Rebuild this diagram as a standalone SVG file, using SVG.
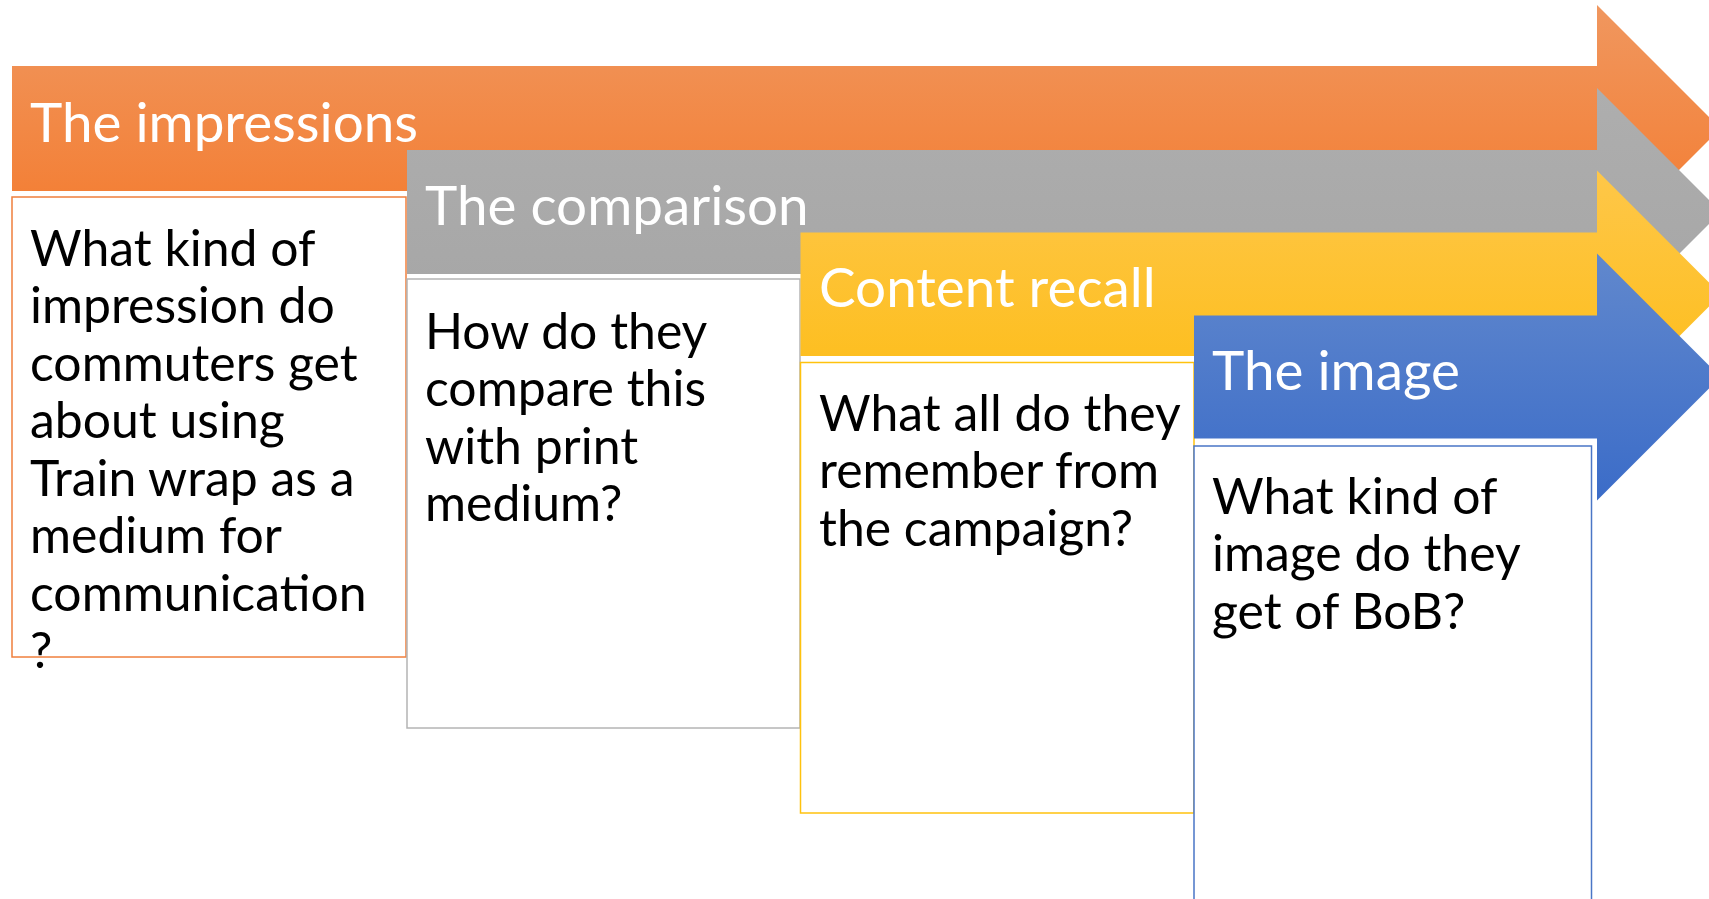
<svg xmlns="http://www.w3.org/2000/svg" width="1709" height="899" viewBox="0 0 1709 899">
  <style>
    .head { font-family: Lato, "Open Sans", sans-serif; font-size: 54.8px; fill: #ffffff; }
    .body { font-family: Lato, "Open Sans", sans-serif; font-size: 49.9px; fill: #000000; }
    .box { fill: #ffffff; stroke-width: 1.5; }
  </style>
  <defs>
    <linearGradient id="gOrange" x1="0" y1="0" x2="0" y2="1">
      <stop offset="0" stop-color="#F0975F"/>
      <stop offset="1" stop-color="#F4792B"/>
    </linearGradient>
    <linearGradient id="gGray" x1="0" y1="0" x2="0" y2="1">
      <stop offset="0" stop-color="#AEAEAE"/>
      <stop offset="1" stop-color="#A5A5A5"/>
    </linearGradient>
    <linearGradient id="gYellow" x1="0" y1="0" x2="0" y2="1">
      <stop offset="0" stop-color="#FEC749"/>
      <stop offset="1" stop-color="#FDBC14"/>
    </linearGradient>
    <linearGradient id="gBlue" x1="0" y1="0" x2="0" y2="1">
      <stop offset="0" stop-color="#6188CD"/>
      <stop offset="1" stop-color="#3B6CC8"/>
    </linearGradient>
  </defs>

  <rect width="1709" height="899" fill="#ffffff"/>

  <!-- Step 1: impressions -->
  <g id="step-impressions">
    <path d="M12,66 H1597 V5 L1720.5,128.5 L1597,252 V191 H12 Z" fill="url(#gOrange)"/>
    <text class="head" x="30" y="141.5">The impressions</text>
    <rect class="box" x="12" y="197" width="394" height="460" stroke="#F07F3C"/>
    <text class="body" x="30">
      <tspan x="30" y="265.5">What kind of</tspan>
      <tspan x="30" y="323">impression do</tspan>
      <tspan x="30" y="380.5">commuters get</tspan>
      <tspan x="30" y="438">about using</tspan>
      <tspan x="30" y="495.5">Train wrap as a</tspan>
      <tspan x="30" y="553">medium for</tspan>
      <tspan x="30" y="610.5">communication</tspan>
      <tspan x="30" y="668">?</tspan>
    </text>
  </g>

  <!-- Step 2: comparison -->
  <g id="step-comparison">
    <path d="M407,150 H1597 V88 L1721,212 L1597,336 V274 H407 Z" fill="url(#gGray)"/>
    <text class="head" x="425" y="225">The comparison</text>
    <rect class="box" x="407" y="279" width="393" height="449" stroke="#B4B4B4"/>
    <text class="body">
      <tspan x="425" y="348.5">How do they</tspan>
      <tspan x="425" y="406">compare this</tspan>
      <tspan x="425" y="463.5">with print</tspan>
      <tspan x="425" y="521">medium?</tspan>
    </text>
  </g>

  <!-- Step 3: content recall -->
  <g id="step-recall">
    <path d="M800.5,232.5 H1597 V170.5 L1721,294.5 L1597,418.5 V356 H800.5 Z" fill="url(#gYellow)"/>
    <text class="head" x="819" y="307">Content recall</text>
    <rect class="box" x="800.5" y="362.5" width="393.5" height="450.5" stroke="#FFC20E"/>
    <text class="body">
      <tspan x="819" y="430.5">What all do they</tspan>
      <tspan x="819" y="488">remember from</tspan>
      <tspan x="819" y="545.5">the campaign?</tspan>
    </text>
  </g>

  <!-- Step 4: image -->
  <g id="step-image">
    <path d="M1194,315.5 H1597 V253.5 L1720.5,377 L1597,500.5 V438.5 H1194 Z" fill="url(#gBlue)"/>
    <text class="head" x="1212" y="389.5">The image</text>
    <rect class="box" x="1194" y="446" width="397.5" height="470" stroke="#4A76C6"/>
    <text class="body">
      <tspan x="1212" y="513.5">What kind of</tspan>
      <tspan x="1212" y="571">image do they</tspan>
      <tspan x="1212" y="628.5">get of BoB?</tspan>
    </text>
  </g>

  <g id="connectors"/>
</svg>
